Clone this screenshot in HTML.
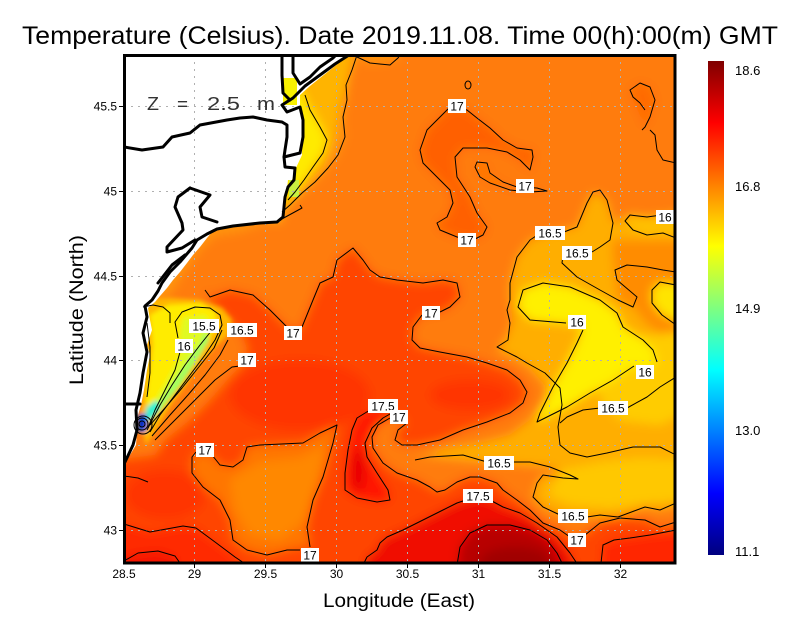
<!DOCTYPE html>
<html><head><meta charset="utf-8"><style>html,body{margin:0;padding:0;background:#fff}svg{display:block}</style></head>
<body>
<svg width="800" height="618" viewBox="0 0 800 618" xmlns="http://www.w3.org/2000/svg" font-family="'Liberation Sans', sans-serif">
<defs>
<clipPath id="c"><rect x="124" y="55" width="551" height="508"/></clipPath>
<filter id="b" x="-10%" y="-10%" width="120%" height="120%"><feGaussianBlur stdDeviation="5"/></filter>
<filter id="b2" x="-20%" y="-20%" width="140%" height="140%"><feGaussianBlur stdDeviation="2"/></filter>
<linearGradient id="jet" x1="0" y1="0" x2="0" y2="1">
<stop offset="0" stop-color="#7f0000"/><stop offset="0.125" stop-color="#ff0000"/><stop offset="0.375" stop-color="#ffff00"/><stop offset="0.625" stop-color="#00ffff"/><stop offset="0.875" stop-color="#0000ff"/><stop offset="1" stop-color="#00007f"/>
</linearGradient>
</defs>

<g clip-path="url(#c)">
<g filter="url(#b)">
<rect x="90" y="30" width="620" height="560" fill="#FF7C08"/>
<polygon fill="#FF9410" points="290,40 400,40 398,60 370,64 357,57 352,70 346,85 347,100 343,117 345,137 338,155 328,168 315,182 302,193 290,205 270,222 240,232 215,236 200,250 185,270 170,295 150,305 140,300 140,220 280,215"/>
<polygon fill="#FFB400" points="283,60 300,58 330,52 352,52 347,87 340,107 337,127 330,150 323,167 310,180 297,193 287,205 280,222 270,222"/>
<polygon fill="#FFEA00" points="290,80 300,88 307,103 313,113 322,128 327,140 323,153 313,167 305,180 295,193 288,200 282,200 282,100"/>
<polygon fill="#FF6000" points="450,107 467,110 477,118 490,128 503,140 517,148 532,150 533,157 530,170 520,160 507,152 487,148 463,148 455,157 457,177 470,197 477,213 487,227 483,235 473,240 457,237 440,230 437,223 447,217 453,203 450,190 437,177 423,163 420,150 427,130 440,117"/>
<polygon fill="#FF7400" points="477,162 487,163 490,173 503,182 517,187 537,188 547,191 530,192 510,190 490,183 480,177 475,167"/>
<polygon fill="#FF6A00" points="630,90 640,83 650,87 655,100 650,117 645,127 640,115 633,100"/>
<polygon fill="#FFAE00" points="510,300 510,283 517,257 530,240 550,233 577,227 587,203 593,192 607,200 613,223 630,215 647,217 690,213 690,503 660,510 645,507 618,517 587,517 560,515 543,507 533,497 537,483 543,475 578,479 550,467 487,462 430,457 415,460 440,450 480,443 510,435 530,420 545,400 545,385 530,368 513,357 497,350 507,337 513,320"/>
<polygon fill="#FF8C00" points="612,240 690,240 690,330 660,335 645,322 633,307 618,300 615,280 613,260"/>
<polygon fill="#FFC000" points="690,213 647,217 630,215 625,221 633,230 647,235 663,233 690,238"/>
<polygon fill="#FFCC00" points="600,340 650,335 690,330 690,410 660,425 620,420 600,400"/>
<polygon fill="#FFC800" points="560,470 600,462 640,458 690,460 690,500 650,503 610,508 570,505 548,495"/>
<polygon fill="#FFF000" points="583,327 577,343 567,363 553,387 540,413 537,422 547,417 567,407 590,393 613,380 633,366 645,370 657,362 653,350 643,340 623,327 617,313 600,300 570,287 543,283 523,290 518,307 530,320 565,323"/>
<polygon fill="#FFE400" points="690,285 660,282 652,290 652,303 662,315 690,325"/>
<polygon fill="#FF4400" points="155,455 165,440 190,420 210,400 230,377 242,365 248,350 242,335 228,318 210,302 205,290 210,297 230,290 253,295 270,310 287,327 300,330 313,300 320,283 333,277 337,260 353,248 363,260 370,270 380,277 397,280 423,283 443,280 457,283 460,297 450,307 440,312 422,315 413,327 412,340 420,348 440,352 467,357 487,363 507,370 520,380 527,392 523,403 510,413 487,422 463,430 440,440 417,445 402,445 395,440 398,430 407,423 399,417 390,418 378,425 372,437 373,448 383,463 397,473 417,480 430,487 437,492 445,490 457,482 470,477 480,477 497,483 503,490 517,500 530,510 543,523 560,530 577,540 600,523 620,518 645,520 660,527 700,522 700,590 100,590 100,462"/>
<ellipse cx="300" cy="395" rx="70" ry="35" fill="#FF3600"/>
<ellipse cx="165" cy="495" rx="40" ry="25" fill="#FF3600"/>
<ellipse cx="470" cy="395" rx="40" ry="15" fill="#FF3400"/>
<polygon fill="#FF7600" points="198,452 212,455 220,465 233,467 243,460 247,447 260,445 303,443 320,433 337,425 333,443 323,477 313,500 307,527 310,547 300,547 287,550 267,555 247,550 233,540 230,520 220,500 203,487 192,473 192,457"/>
<polygon fill="#FF8800" points="230,480 260,462 300,458 325,445 318,480 305,520 280,540 250,535 235,510"/>
<polygon fill="#FF1400" points="370,410 357,418 352,430 348,450 345,473 345,490 357,498 377,502 390,500 388,490 377,473 367,457 365,443 372,428 383,418 397,410"/>
<ellipse cx="358" cy="470" rx="7" ry="22" fill="#E80000"/>
<polygon fill="#F01000" points="363,575 367,557 377,550 380,543 387,537 403,530 423,520 443,510 457,503 467,500 478,497 490,500 503,507 520,513 537,523 557,537 570,553 578,575"/>
<polygon fill="#B80000" points="457,575 460,547 470,533 487,525 510,525 530,530 547,540 557,553 563,575"/>
<ellipse cx="515" cy="562" rx="35" ry="15" fill="#A00000"/>
<polygon fill="#FF2C00" points="100,524 124,524 150,532 183,526 196,528 215,542 235,557 244,575 100,575"/>
<polygon fill="#F51800" points="100,561 138,553 158,551 175,556 180,575 100,575"/>
<polygon fill="#FF2800" points="601,575 603,545 614,540 630,538 650,535 700,530 700,575"/>
</g>
<g filter="url(#b2)">
<polygon fill="#FFB800" points="143,300 170,298 200,300 222,308 232,320 228,335 215,347 200,364 186,385 171,405 157,428 146,445 140,420 143,380 147,340"/>
<polygon fill="#FFEC00" points="150,315 168,305 200,303 215,312 218,325 208,340 195,358 180,378 165,400 151,424 146,400 150,370 153,345"/>
<polygon fill="#E0FA20" points="183,318 205,315 212,326 205,340 192,360 176,383 160,406 151,418 155,400 168,378 180,355 180,335"/>
<polygon fill="#A0FF60" points="205,330 200,343 187,362 170,386 154,408 148,418 151,420 163,407 181,384 197,360 209,340"/>
<polygon fill="#30F0D0" points="146,408 156,400 160,408 152,418 145,422"/>
<polygon fill="#0060F0" points="138,414 146,414 148,424 145,432 138,432"/>
<polygon fill="#0010C0" points="139,419 144,419 145,428 139,428"/>
</g>
</g>

<!-- land -->
<polygon fill="#fff" points="118,50 350,50 349,56 340,62 330,70 320,78 310,86 300,95 300,107 302,120 302,155 295,170 292,180 288,180 286,197 284,212 280,222 260,223 233,226 217,229 212,232 207,238 200,247 193,255 187,263 180,272 173,280 167,288 160,296 155,302 148,308 150,320 152,330 147,345 150,355 147,370 144,390 141,405 138,415 137,432 136,445 130,455 124,462 118,465"/>
<rect x="283" y="78" width="14" height="27" fill="#F8F000"/>
<rect x="289" y="180" width="10" height="17" fill="#C8F040"/>

<!-- gridlines -->
<g stroke="#b0b0b0" stroke-width="1" stroke-dasharray="2,5" fill="none">
<line x1="194.5" y1="55" x2="194.5" y2="563"/><line x1="265.5" y1="55" x2="265.5" y2="563"/><line x1="336.5" y1="55" x2="336.5" y2="563"/><line x1="407.5" y1="55" x2="407.5" y2="563"/><line x1="478.5" y1="55" x2="478.5" y2="563"/><line x1="549.5" y1="55" x2="549.5" y2="563"/><line x1="620.5" y1="55" x2="620.5" y2="563"/>
<line x1="124" y1="106.5" x2="675" y2="106.5"/><line x1="124" y1="191.5" x2="675" y2="191.5"/><line x1="124" y1="276.5" x2="675" y2="276.5"/><line x1="124" y1="360.5" x2="675" y2="360.5"/><line x1="124" y1="445.5" x2="675" y2="445.5"/><line x1="124" y1="530.5" x2="675" y2="530.5"/>
</g>

<!-- contours -->
<g clip-path="url(#c)" stroke="#000" stroke-width="1" fill="none" stroke-linejoin="round">
<path d="M450,107 L467,110 477,118 490,128 503,140 517,148 532,150 533,157 530,170 520,160 507,152 487,148 463,148 455,157 457,177 470,197 477,213 487,227 483,235 473,240 457,237 440,230 437,223 447,217 453,203 450,190 437,177 423,163 420,150 427,130 440,117 Z"/>
<path d="M477,162 L487,163 490,173 503,182 517,187 537,188 547,191 530,192 510,190 490,183 480,177 475,167 Z"/>
<path d="M357,55 L352,70 346,85 347,100 343,117 345,137 338,155 328,168 315,182 302,193 290,205 282,212"/>
<path d="M305,95 L310,110 320,127 327,140 323,153 313,167 304,180 295,192 288,200"/>
<path d="M357,57 L370,63 390,65 398,58 400,55"/>
<ellipse cx="468" cy="85" rx="3" ry="4"/>
<path d="M642,130 L645,127 650,117 655,100 650,87 640,83 630,90 633,97 640,103 645,110"/>
<path d="M650,130 L655,135 657,150 663,160 676,163"/>
<path d="M205,290 L210,297 230,290 253,295 270,310 287,327 M302,327 L313,300 320,283 333,277 337,260 353,248 363,260 370,270 380,277 397,280 423,283 443,280 457,283 460,297 450,307 440,312 M422,315 L413,327 412,340 420,348 440,352 467,357 487,363 507,370 520,380 527,392 523,403 510,413 487,422 463,430 440,440 417,445 402,445 395,440 398,430 407,423"/>
<path d="M390,418 L378,425 372,437 373,448 383,463 397,473 417,480 430,487 437,492 445,490 457,482 470,477 480,477 497,483 503,490 517,500 530,510 543,523 560,530 570,537 M585,535 L600,523 620,518 645,520 660,527 676,522"/>
<path d="M370,410 L357,418 352,430 348,450 345,473 345,490 357,498 377,502 390,500 388,490 377,473 367,457 365,443 372,428 383,418 397,410"/>
<path d="M212,455 L220,465 233,467 243,460 247,447 260,445 303,443 320,433 337,425 333,443 323,477 313,500 307,527 310,547 M300,550 L287,550 267,555 247,550 233,540 230,520 220,500 203,487 192,473 192,457 196,452"/>
<path d="M124,524 L150,532 183,526 196,528 215,542 235,557 244,563"/>
<path d="M124,561 L138,553 158,551 175,556 180,563"/>
<path d="M124,476 L138,478 148,482"/>
<path d="M466,500 L457,503 443,510 423,520 403,530 387,537 380,543 377,550 367,557 363,565"/>
<path d="M490,500 L503,507 520,513 537,523 557,537 570,553 578,565"/>
<path d="M457,565 L460,547 470,533 487,525 510,525 530,530 547,540 557,553 563,565"/>
<path d="M601,563 L603,545 614,540 630,538 650,535 676,530"/>
<path d="M415,460 L430,457 463,455 487,462 M512,462 L530,462 550,467 570,475 578,479 563,478 543,475 537,483 533,497 543,507 560,515 M587,517 L600,515 618,517 645,507 660,510 676,503"/>
<path d="M510,300 L507,310 510,323 508,340 497,347 517,357 527,363 545,373 560,388 562,405 558,427 560,445 570,453 587,457 607,453 633,447 660,447 676,455"/>
<path d="M676,377 L660,387 647,397 627,408 M600,408 L583,410 567,417 560,423"/>
<path d="M510,300 L510,283 517,257 530,240 536,236 M564,232 L577,227 587,203 593,192 600,190 607,200 613,223 610,240 600,247 592,252"/>
<path d="M563,255 L562,263 577,277 600,290 618,300 633,307 637,297 617,280 615,270 627,265 647,267 663,270 676,272"/>
<path d="M566,323 L530,320 518,307 523,290 543,283 570,287 600,300 617,313 623,327 643,340 653,350 657,362 M634,366 L613,380 590,393 567,407 547,417 537,422 540,413 553,387 567,363 577,343 583,330"/>
<path d="M676,285 L660,282 652,290 652,303 662,315 676,325"/>
<path d="M676,213 L647,217 630,215 625,221 633,230 647,235 663,233 676,238"/>
<path d="M300,205 L302,208 280,220 277,223"/>
<path d="M147,430 L160,405 172,385 185,365 200,345 212,330"/>
<path d="M148,428 L155,410 165,390 175,370 180,352 M178,338 L175,322 182,312 195,307 210,308 220,315 222,325 215,340 205,355 190,375 175,395 160,415 150,432"/>
<path d="M152,436 L170,415 188,395 205,375 220,355 228,340"/>
<path d="M155,440 L175,420 195,400 215,380 232,367 240,366"/>
<path d="M150,425 L165,408 182,388 198,368 214,348 222,330"/>
<path d="M143,307 L153,305 163,307 170,313 170,323"/>
<path d="M147,323 L150,347 150,373 147,397"/>
<circle cx="142" cy="424" r="3"/><circle cx="142" cy="424" r="6"/><circle cx="143" cy="425" r="9"/>
</g>

<!-- contour labels -->
<g font-size="12" text-anchor="middle" fill="#000">
<rect x="448" y="99" width="18" height="14" fill="#fff"/><text x="457" y="110.5">17</text>
<rect x="516" y="179" width="18" height="14" fill="#fff"/><text x="525" y="190.5">17</text>
<rect x="535" y="226" width="30" height="14" fill="#fff"/><text x="550" y="237.5">16.5</text>
<rect x="562" y="246" width="30" height="14" fill="#fff"/><text x="577" y="257.5">16.5</text>
<rect x="458" y="233" width="18" height="14" fill="#fff"/><text x="467" y="244.5">17</text>
<rect x="656" y="210" width="19" height="14" fill="#fff"/><text x="665" y="221.5">16</text>
<rect x="422" y="306" width="18" height="14" fill="#fff"/><text x="431" y="317.5">17</text>
<rect x="284" y="326" width="18" height="14" fill="#fff"/><text x="293" y="337.5">17</text>
<rect x="189" y="319" width="30" height="14" fill="#fff"/><text x="204" y="330.5">15.5</text>
<rect x="227" y="323" width="30" height="14" fill="#fff"/><text x="242" y="334.5">16.5</text>
<rect x="175" y="339" width="18" height="14" fill="#fff"/><text x="184" y="350.5">16</text>
<rect x="238" y="353" width="18" height="14" fill="#fff"/><text x="247" y="364.5">17</text>
<rect x="568" y="315" width="18" height="14" fill="#fff"/><text x="577" y="326.5">16</text>
<rect x="636" y="365" width="18" height="14" fill="#fff"/><text x="645" y="376.5">16</text>
<rect x="598" y="401" width="30" height="14" fill="#fff"/><text x="613" y="412.5">16.5</text>
<rect x="368" y="399" width="30" height="14" fill="#fff"/><text x="383" y="410.5">17.5</text>
<rect x="390" y="410" width="18" height="14" fill="#fff"/><text x="399" y="421.5">17</text>
<rect x="196" y="443" width="18" height="14" fill="#fff"/><text x="205" y="454.5">17</text>
<rect x="484" y="456" width="30" height="14" fill="#fff"/><text x="499" y="467.5">16.5</text>
<rect x="463" y="489" width="30" height="14" fill="#fff"/><text x="478" y="500.5">17.5</text>
<rect x="558" y="509" width="30" height="14" fill="#fff"/><text x="573" y="520.5">16.5</text>
<rect x="568" y="533" width="18" height="14" fill="#fff"/><text x="577" y="544.5">17</text>
<rect x="301" y="548" width="18" height="14" fill="#fff"/><text x="310" y="559.5">17</text>
</g>

<!-- coastline -->
<g stroke="#000" stroke-width="3" fill="none" stroke-linejoin="round" stroke-linecap="round" clip-path="url(#c)">
<path d="M352,53 L335,64 L320,75 L305,86 L293,98 L282,105 L287,112 L300,107 L303,120 L303,137 L300,153 L284,157 L285,167 L295,168 L294,180 L288,187 L285,197 L283,217 L277,222 L260,223 L233,226 L217,229 L207,234 L197,240 L192,248 L180,262 L170,272 L162,283 L158,291 L152,300 L145,306 L147,317 L143,333 L147,352 L143,373 L140,393 L136,410 L137,430 L133,445 L125,462"/>
<path d="M282,53 L282,75 L283,93 L290,100"/>
<path d="M293,53 L293,73 L300,84 L310,77 L320,67 L333,58 L338,53"/>
<path d="M124,147 L142,150 L163,147 L172,137 L190,133 L200,125 L227,120 L240,118 L253,117 L267,120 L282,122 L287,125 L287,137 L285,150 L284,157"/>
<path d="M190,188 L210,195 L200,207 L202,217 L217,222"/>
<path d="M190,188 L178,197 L175,207 L182,223 L183,230 L167,247 L167,252 L182,248 L195,240"/>
<path d="M158,283 L172,265 L185,255"/>
<path d="M124,404 L140,404"/>
</g>

<!-- frame -->
<rect x="124.5" y="55.5" width="550.5" height="507.5" fill="none" stroke="#000" stroke-width="3"/>

<!-- ticks -->
<g stroke="#000" stroke-width="1">
<line x1="119" y1="106.5" x2="124" y2="106.5"/><line x1="119" y1="191.5" x2="124" y2="191.5"/><line x1="119" y1="276.5" x2="124" y2="276.5"/><line x1="119" y1="360.5" x2="124" y2="360.5"/><line x1="119" y1="445.5" x2="124" y2="445.5"/><line x1="119" y1="530.5" x2="124" y2="530.5"/>
<line x1="194.5" y1="563" x2="194.5" y2="568"/><line x1="265.5" y1="563" x2="265.5" y2="568"/><line x1="336.5" y1="563" x2="336.5" y2="568"/><line x1="407.5" y1="563" x2="407.5" y2="568"/><line x1="478.5" y1="563" x2="478.5" y2="568"/><line x1="549.5" y1="563" x2="549.5" y2="568"/><line x1="620.5" y1="563" x2="620.5" y2="568"/>
</g>

<g font-size="18" fill="#333">
<text x="147" y="110" textLength="12" lengthAdjust="spacingAndGlyphs">Z</text><text x="177" y="110" textLength="11" lengthAdjust="spacingAndGlyphs">=</text><text x="207" y="110" textLength="33" lengthAdjust="spacingAndGlyphs">2.5</text><text x="257" y="110" textLength="18" lengthAdjust="spacingAndGlyphs">m</text>
</g>

<text x="22" y="44" font-size="25" textLength="756" lengthAdjust="spacingAndGlyphs">Temperature (Celsius). Date 2019.11.08. Time 00(h):00(m) GMT</text>

<g font-size="12" text-anchor="end">
<text x="117" y="110.5">45.5</text><text x="117" y="195.5">45</text><text x="117" y="280.5">44.5</text><text x="117" y="364.5">44</text><text x="117" y="449.5">43.5</text><text x="117" y="534.5">43</text>
</g>
<g font-size="12" text-anchor="middle">
<text x="124" y="578">28.5</text><text x="194.5" y="578">29</text><text x="265.5" y="578">29.5</text><text x="336.5" y="578">30</text><text x="407.5" y="578">30.5</text><text x="478.5" y="578">31</text><text x="549.5" y="578">31.5</text><text x="620.5" y="578">32</text>
</g>
<text x="399" y="607" font-size="19" text-anchor="middle" textLength="152" lengthAdjust="spacingAndGlyphs">Longitude (East)</text>
<text transform="translate(83,310) rotate(-90)" font-size="19" text-anchor="middle" textLength="150" lengthAdjust="spacingAndGlyphs">Latitude (North)</text>

<!-- colorbar -->
<rect x="708" y="61" width="16" height="494" fill="url(#jet)"/>
<g font-size="13">
<text x="735" y="75">18.6</text><text x="735" y="191">16.8</text><text x="735" y="313">14.9</text><text x="735" y="435">13.0</text><text x="735" y="556">11.1</text>
</g>
</svg>
</body></html>
